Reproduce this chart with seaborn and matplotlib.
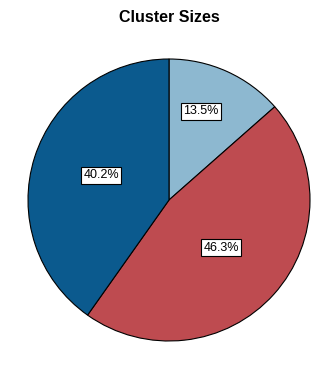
import matplotlib
matplotlib.use("Agg")
import matplotlib.pyplot as plt
import seaborn as sns
import numpy as np

sns.set_theme(style="white")
plt.rcParams['font.family'] = ['Liberation Sans', 'DejaVu Sans']
plt.rcParams['text.color'] = 'black'

labels = ["Cluster 1", "Cluster 2", "Cluster 3"]
values = [13.5, 46.3, 40.2]
colors = ["#8DB8D0", "#BE4B50", "#0B5A8E"]
label_pos = [(0.227, 0.631), (0.369, -0.340), (-0.482, 0.177)]

fig = plt.figure(figsize=(3.34, 3.66), dpi=100)
ax = fig.add_axes([(169 - 141) / 334, 1 - (200 + 141) / 366, 282 / 334, 282 / 366])
wedges, texts, autotexts = ax.pie(
    values, colors=colors, startangle=90, counterclock=False,
    autopct="%.1f%%", pctdistance=0.5,
    wedgeprops=dict(edgecolor="black", linewidth=0.8),
    textprops=dict(fontsize=9, color="black"),
)
for t, p in zip(autotexts, label_pos):
    t.set_position(p)
    t.set_bbox(dict(boxstyle="square,pad=0.2", facecolor="white", edgecolor="black", linewidth=0.8))
ax.set_aspect("equal")
ax.set_xlim(-1, 1)
ax.set_ylim(-1, 1)
fig.text(169 / 334, 1 - 18 / 366, "Cluster Sizes", ha="center", va="center",
         fontsize=11.5, fontweight="bold", color="black")
fig.savefig("out.png", dpi=100, facecolor="white")
